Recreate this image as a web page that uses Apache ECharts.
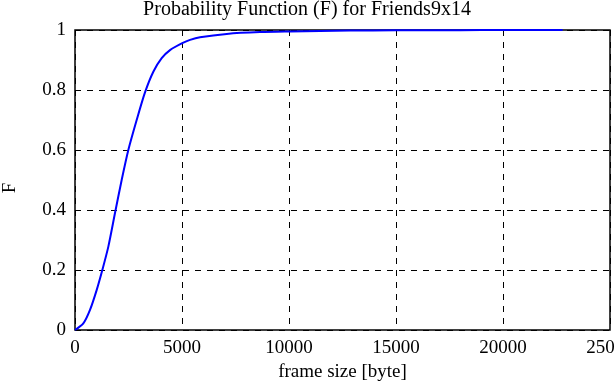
<!DOCTYPE html>
<html><head><meta charset="utf-8">
<script src="https://cdn.jsdelivr.net/npm/echarts@6/dist/echarts.min.js"></script>
<style>html,body{margin:0;padding:0;background:#fff}#c{width:614px;height:385px}</style>
</head><body><div id="c"></div>
<script>
const titleText = 'Probability Function (F) for Friends9x14';
const xName = 'frame size [byte]';
const yName = 'F';
const frameSize = [0, 389, 701, 1012, 1277, 1558, 1869, 2181, 2492, 2882, 3271, 3660, 4051, 4439, 5013, 5374, 5841, 7090, 8645, 10047, 12850, 15000, 18000, 20000, 22785];
const probF = [0, 0.022, 0.067, 0.133, 0.2, 0.278, 0.39, 0.5, 0.6, 0.7, 0.792, 0.861, 0.906, 0.933, 0.956, 0.967, 0.976, 0.987, 0.993, 0.995, 0.998, 0.999, 0.9995, 1.0, 1.0];

const font = 'Liberation Serif';
const chart = echarts.init(document.getElementById('c'));
chart.setOption({
  animation: false,
  backgroundColor: '#fff',
  title: { text: titleText, left: 'center', top: -5, textStyle: { fontFamily: font, fontSize: 20, fontWeight: 'normal', color: '#000' } },
  grid: { left: 75, right: 4, top: 30, bottom: 55, show: true, borderColor: '#000', borderWidth: 1.5, containLabel: false, outerBoundsMode: 'none' },
  xAxis: {
    type: 'value', min: 0, max: 25000, interval: 5000,
    name: xName, nameLocation: 'middle', nameGap: 33,
    nameTextStyle: { fontFamily: font, fontSize: 19, color: '#000' },
    axisLine: { show: false }, axisTick: { show: false },
    axisLabel: { fontFamily: font, fontSize: 19, color: '#000', margin: 9, formatter: v => String(v), hideOverlap: false },
    splitLine: { show: true, lineStyle: { color: '#000', type: [6, 6], width: 1 } }
  },
  yAxis: {
    type: 'value', min: 0, max: 1, interval: 0.2,
    name: yName, nameLocation: 'middle', nameGap: 55, nameRotate: 90,
    nameTextStyle: { fontFamily: font, fontSize: 19, color: '#000', padding: [0, 16, 0, 0] },
    axisLine: { show: false }, axisTick: { show: false },
    axisLabel: { fontFamily: font, fontSize: 19, color: '#000', margin: 9, formatter: v => String(+v.toFixed(1)) },
    splitLine: { show: true, lineStyle: { color: '#000', type: [6, 6], width: 1 } }
  },
  series: [{
    type: 'line', data: frameSize.map((x, i) => [x, probF[i]]),
    showSymbol: false, smooth: 0.25,
    lineStyle: { color: '#0000ff', width: 2 }
  }]
});
</script></body></html>
